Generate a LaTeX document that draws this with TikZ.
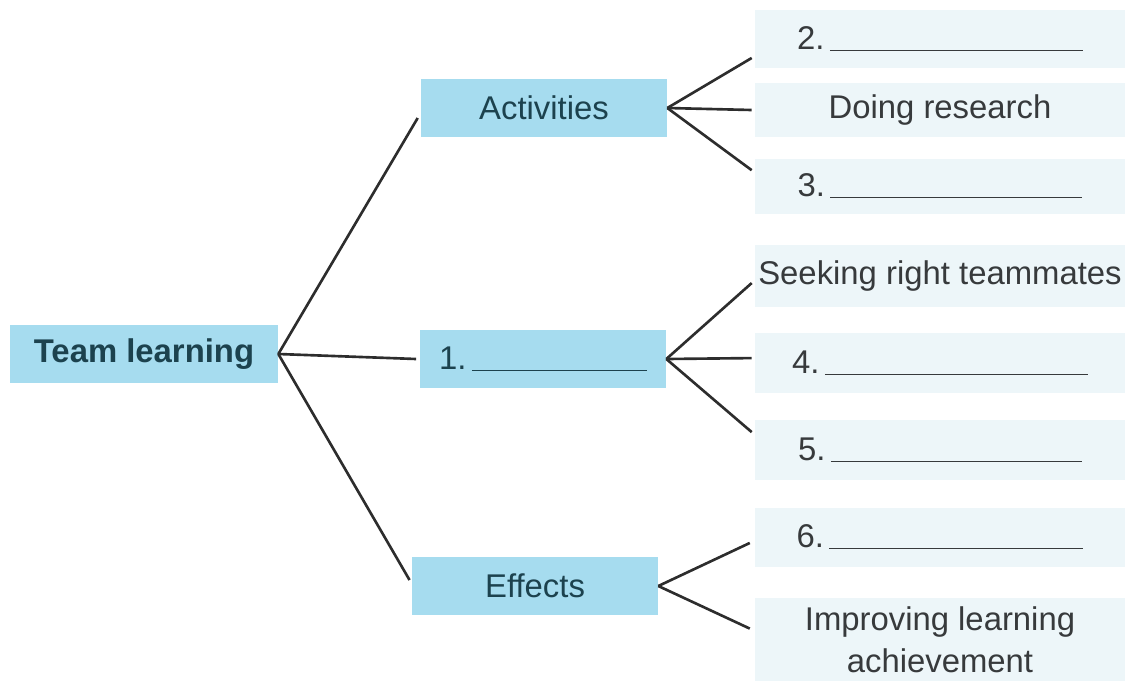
\documentclass[tikz,border=0pt]{standalone}
\usepackage{fontspec}
\setmainfont{Liberation Sans}
\definecolor{boxblue}{RGB}{166,220,239}
\definecolor{leafblue}{RGB}{237,246,249}
\definecolor{textteal}{RGB}{28,66,78}
\definecolor{leafgray}{RGB}{55,58,60}
\definecolor{linegray}{RGB}{45,45,45}
\newcommand{\fillin}[1]{\,\rule[-1pt]{#1}{0.7pt}}
\tikzset{
  mainbox/.style={fill=boxblue,text=textteal,inner sep=0pt,minimum width=4.92cm,minimum height=1.16cm},
  leafbox/.style={fill=leafblue,text=leafgray,inner sep=0pt,minimum width=7.4cm,minimum height=1.16cm},
  link/.style={draw=linegray,line width=1.5pt}
}

\begin{document}
\begin{tikzpicture}[x=0.02cm,y=-0.02cm,font=\fontsize{18.7}{24}\selectfont]
\useasboundingbox (0,0) rectangle (1125,680);

% root and branches
\node[mainbox,minimum width=5.36cm,font=\fontsize{18.7}{24}\selectfont\bfseries] (tl) at (144,354) {Team learning};
\node[mainbox] (act) at (544,108) {Activities};
\node[mainbox] (one) at (543,359) {1.\fillin{3.5cm}};
\node[mainbox] (eff) at (535,586) {Effects};

% leaves
\node[leafbox] (l2) at (940,39) {2.\fillin{5.06cm}};
\node[leafbox,minimum height=1.08cm] (ldr) at (940,110) {Doing research};
\node[leafbox,minimum height=1.1cm] (l3) at (940,186) {3.\fillin{5.04cm}};
\node[leafbox,minimum height=1.24cm] (lseek) at (940,276) {Seeking right teammates};
\node[leafbox,minimum height=1.2cm] (l4) at (940,363) {4.\fillin{5.26cm}};
\node[leafbox,minimum height=1.2cm] (l5) at (940,450) {5.\fillin{5.02cm}};
\node[leafbox,minimum height=1.18cm] (l6) at (940,537) {6.\fillin{5.08cm}};
\node[leafbox,minimum height=1.7cm,align=center] (limp) at (940,640) {Improving learning\\achievement};

% connectors
\draw[link] (tl.east) -- ([xshift=-1.7pt,yshift=-5.7pt]act.west);
\draw[link] (tl.east) -- ([xshift=-2pt]one.west);
\draw[link] (tl.east) -- ([xshift=-1.2pt,yshift=3.4pt]eff.west);

\draw[link] (act.east) -- ([xshift=-1.7pt,yshift=-10.8pt]l2.west);
\draw[link] (act.east) -- ([xshift=-1.7pt]ldr.west);
\draw[link] (act.east) -- ([xshift=-1.7pt,yshift=9pt]l3.west);

\draw[link] (one.east) -- ([xshift=-1.7pt,yshift=-4pt]lseek.west);
\draw[link] (one.east) -- ([xshift=-1.7pt,yshift=2.8pt]l4.west);
\draw[link] (one.east) -- ([xshift=-1.7pt,yshift=10.2pt]l5.west);

\draw[link] (eff.east) -- ([xshift=-2.8pt,yshift=-3.4pt]l6.west);
\draw[link] (eff.east) -- ([xshift=-2.8pt,yshift=6.5pt]limp.west);

\end{tikzpicture}
\end{document}
